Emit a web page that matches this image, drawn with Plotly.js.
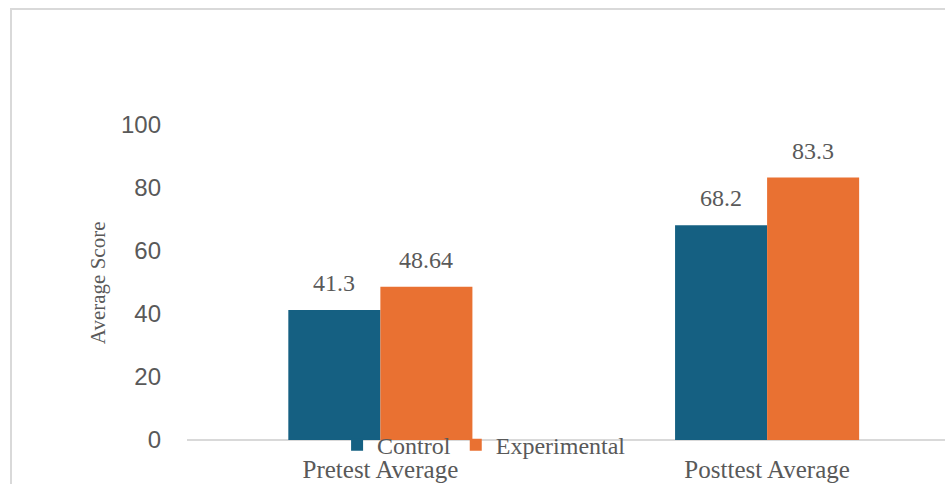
<!DOCTYPE html>
<html>
<head>
<meta charset="utf-8">
<script src="https://cdn.plot.ly/plotly-3.0.1.min.js"></script>
<style>
  html, body { margin: 0; padding: 0; background: #fff; overflow: hidden; }
  #wrap { position: relative; width: 945px; height: 484px; }
  #frame { position: absolute; left: 10px; top: 8px; width: 960px; height: 500px;
           border-left: 2px solid #d9d9d9; border-top: 2px solid #d9d9d9; pointer-events: none; }
  #chart { position: absolute; left: 0; top: 0; width: 945px; height: 484px; }
</style>
</head>
<body>
<div id="wrap">
  <div id="chart"></div>
  <div id="frame"></div>
</div>
<script>
const categories = ["Pretest Average", "Posttest Average"];
const seriesNames = ["Control", "Experimental"];
const controlValues = [41.3, 68.2];
const experimentalValues = [48.64, 83.3];
const yTicks = [0, 20, 40, 60, 80, 100];

const colors = ["#156082", "#E97132"];
const serif = "Liberation Serif, Times New Roman, serif";
const sans = "Liberation Sans, Arial, sans-serif";

const traces = [
  { type: "bar", name: seriesNames[0], x: categories, y: controlValues,
    marker: { color: colors[0] }, hoverinfo: "skip" },
  { type: "bar", name: seriesNames[1], x: categories, y: experimentalValues,
    marker: { color: colors[1] }, hoverinfo: "skip" }
];

const annotations = [];
[controlValues, experimentalValues].forEach((vals, si) => {
  vals.forEach((v, i) => {
    annotations.push({
      x: categories[i], y: v, xref: "x", yref: "y",
      text: String(v), showarrow: false,
      xanchor: "center", yanchor: "bottom",
      xshift: si === 0 ? -46 : 46, yshift: 12,
      font: { family: serif, size: 24, color: "#595959" }
    });
  });
});
annotations.push({
  xref: "paper", yref: "paper", x: (98 - 187) / 758, y: 0.498,
  text: "Average Score", textangle: -90, showarrow: false,
  xanchor: "center", yanchor: "middle",
  font: { family: serif, size: 21, color: "#595959" }
});

const layout = {
  width: 945, height: 484,
  margin: { l: 187, r: 0, t: 125, b: 44, pad: 0 },
  paper_bgcolor: "rgba(0,0,0,0)", plot_bgcolor: "rgba(0,0,0,0)",
  barmode: "group", bargap: 0.524, bargroupgap: 0,
  showlegend: true,
  legend: {
    orientation: "h", x: 0.198, xanchor: "left", y: -0.016, yanchor: "middle",
    bgcolor: "rgba(0,0,0,0)", font: { family: serif, size: 24, color: "#595959" },
    traceorder: "normal"
  },
  xaxis: {
    type: "category", range: [-0.5, 1.46], showgrid: false, showline: false,
    zeroline: false, ticks: "", ticklabelstandoff: 12,
    tickfont: { family: serif, size: 25, color: "#595959" }, fixedrange: true
  },
  yaxis: {
    range: [0, 100], tickvals: yTicks, ticktext: yTicks.map(String),
    showgrid: false, showline: false, zeroline: true, zerolinecolor: "#d9d9d9",
    zerolinewidth: 2, ticks: "", ticklabelstandoff: 25,
    tickfont: { family: sans, size: 24, color: "#595959" }, fixedrange: true
  },
  annotations: annotations
};

Plotly.newPlot("chart", traces, layout, { displayModeBar: false, staticPlot: true });
</script>
</body>
</html>
